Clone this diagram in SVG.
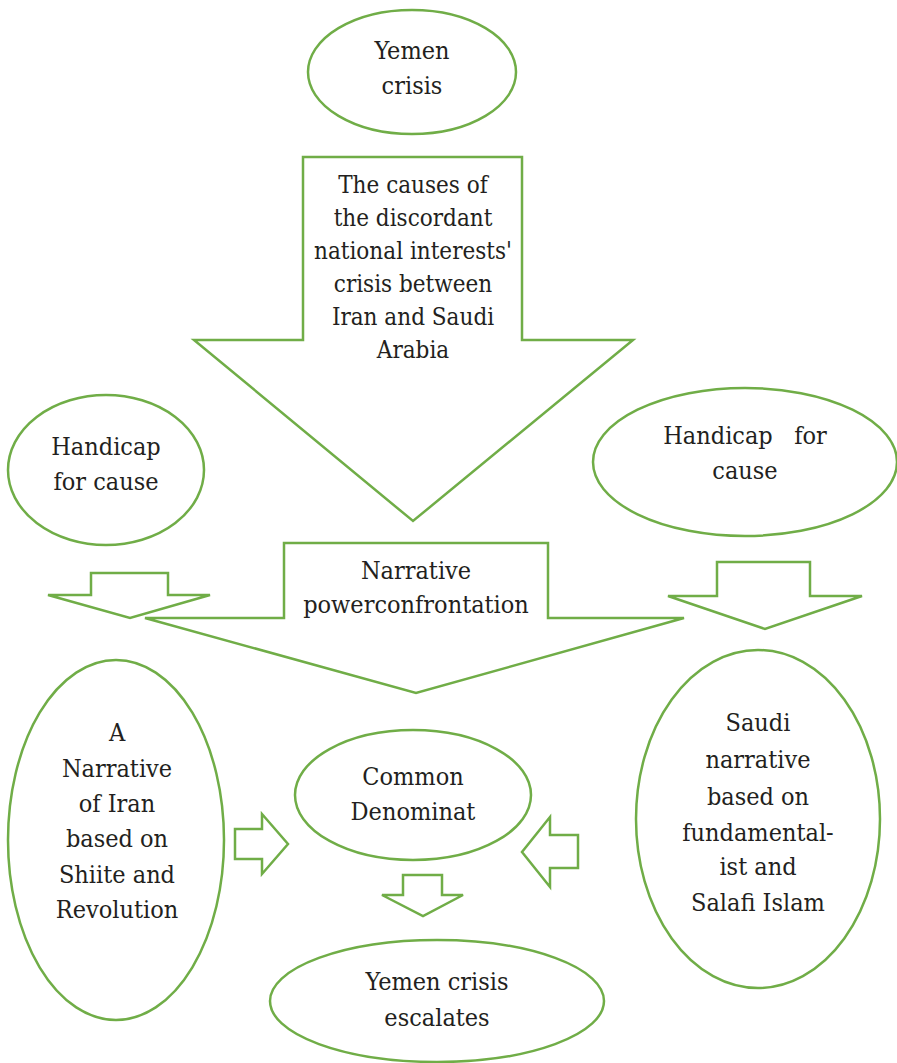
<svg xmlns="http://www.w3.org/2000/svg" width="897" height="1063" viewBox="0 0 897 1063">
<style>
.s{fill:#fff;stroke:#70ad47;stroke-width:2.5;stroke-linejoin:miter}
.t{font-family:"DejaVu Serif Condensed","DejaVu Serif",serif;font-stretch:condensed;font-size:25px;fill:#231f20;text-anchor:middle;white-space:pre}
.c{font-size:24px}
</style>
<rect width="897" height="1063" fill="#fff"/>
<g id="connectors">
<polygon class="s" points="303,157 522,157 522,340 633,340 413,521 194,340 303,340"/>
<polygon class="s" points="91,573 168,573 168,595 210,595 130,618 48,595 91,595"/>
<polygon class="s" points="717,562 810,562 810,596 862,596 765,629 668,596 717,596"/>
<polygon class="s" points="284,543 548,543 548,618 684,618 416,693 145,618 284,618"/>
<polygon class="s" points="235,829 262,829 262,814 288,844 262,874 262,859 235,859"/>
<polygon class="s" points="578,835 550,835 550,817 522,852 550,887 550,868 578,868"/>
<polygon class="s" points="403,875 442,875 442,895 463,895 423,916 382,895 403,895"/>
</g>
<g id="causes">
<text class="t c" x="413" y="193">The causes of</text>
<text class="t c" x="413" y="226">the discordant</text>
<text class="t c" x="413" y="259">national interests'</text>
<text class="t c" x="413" y="292">crisis between</text>
<text class="t c" x="413" y="325">Iran and Saudi</text>
<text class="t c" x="413" y="358">Arabia</text>
</g>
<g id="narrative">
<text class="t" x="416" y="579">Narrative</text>
<text class="t" x="416" y="613">powerconfrontation</text>
</g>
<g id="yemen-crisis">
<ellipse class="s" cx="412" cy="72" rx="104" ry="62"/>
<text class="t" x="412" y="59">Yemen</text>
<text class="t" x="412" y="94">crisis</text>
</g>
<g id="handicap-left">
<ellipse class="s" cx="106" cy="470" rx="98" ry="75"/>
<text class="t" x="106" y="455">Handicap</text>
<text class="t" x="106" y="490">for cause</text>
</g>
<g id="handicap-right">
<ellipse class="s" cx="745" cy="462" rx="152" ry="74"/>
<text class="t" x="745" y="444">Handicap   for</text>
<text class="t" x="745" y="479">cause</text>
</g>
<g id="iran-narrative">
<ellipse class="s" cx="116" cy="840" rx="108" ry="180"/>
<text class="t" x="117" y="741">A</text>
<text class="t" x="117" y="777">Narrative</text>
<text class="t" x="117" y="812">of Iran</text>
<text class="t" x="117" y="847">based on</text>
<text class="t" x="117" y="883">Shiite and</text>
<text class="t" x="117" y="918">Revolution</text>
</g>
<g id="common">
<ellipse class="s" cx="413" cy="795" rx="118" ry="65"/>
<text class="t" x="413" y="785">Common</text>
<text class="t" x="413" y="820">Denominat</text>
</g>
<g id="saudi-narrative">
<ellipse class="s" cx="758" cy="819" rx="122" ry="169"/>
<text class="t" x="758" y="731">Saudi</text>
<text class="t" x="758" y="768">narrative</text>
<text class="t" x="758" y="805">based on</text>
<text class="t" x="758" y="841">fundamental-</text>
<text class="t" x="758" y="875">ist and</text>
<text class="t" x="758" y="911">Salafi Islam</text>
</g>
<g id="escalates">
<ellipse class="s" cx="437" cy="1001" rx="167" ry="61"/>
<text class="t" x="437" y="990">Yemen crisis</text>
<text class="t" x="437" y="1026">escalates</text>
</g>
</svg>
